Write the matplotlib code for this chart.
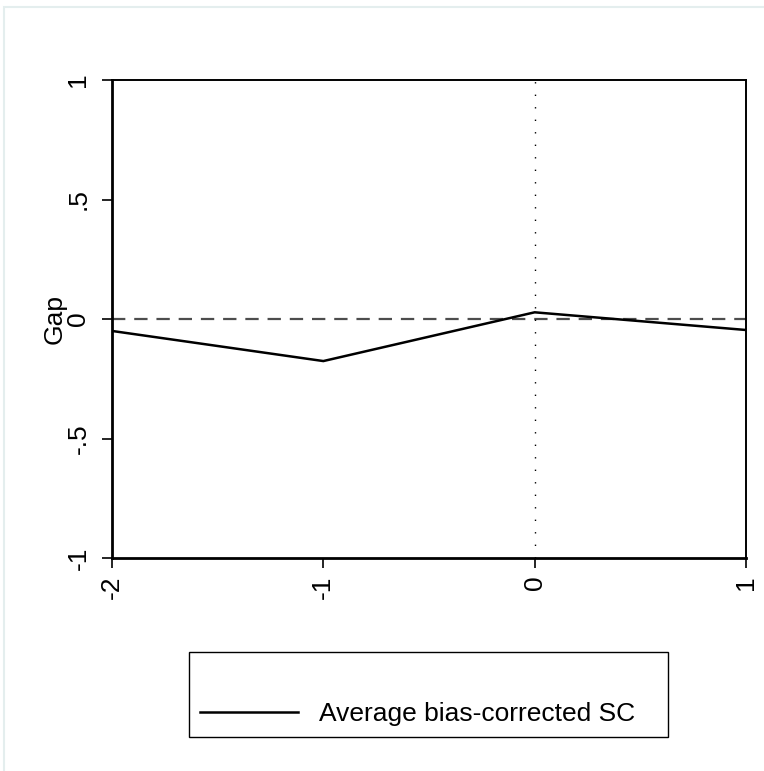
import matplotlib
matplotlib.use("Agg")
import matplotlib.pyplot as plt
from matplotlib.patches import Rectangle

# Data
periods = [-2, -1, 0, 1]
gap = [-0.05, -0.176, 0.028, -0.046]
yticks = [-1, -0.5, 0, 0.5, 1]
ytick_labels = ["-1", "-.5", "0", ".5", "1"]
xticks = [-2, -1, 0, 1]
xtick_labels = ["-2", "-1", "0", "1"]
series_label = "Average bias-corrected SC"

plt.rcParams['font.family'] = ['Liberation Sans', 'DejaVu Sans']
FS = 19

fig = plt.figure(figsize=(7.64, 7.71), dpi=100)
W, H = 764, 771

# outer faint frame (only top/left visible)
fig.patches.append(Rectangle((4 / W, -0.05), 1.0, (1 - 7 / H) + 0.05,
                             transform=fig.transFigure, fill=False,
                             edgecolor='#e4eeee', linewidth=1.5))

ax = fig.add_axes([112 / W, 1 - 558 / H, (746 - 112) / W, (558 - 80) / H])
ax.set_xlim(-2, 1)
ax.set_ylim(-1, 1)

ax.axhline(0, color='#4d4d4d', linestyle=(0, (6, 4)), linewidth=1.6, zorder=1)
ax.axvline(0, color='black', linestyle=(0, (1, 8)), linewidth=1.0, zorder=1)
line, = ax.plot(periods, gap, color='black', linewidth=1.8, zorder=3,
                solid_joinstyle='miter', label=series_label)

ax.set_yticks(yticks)
ax.set_yticklabels(ytick_labels, rotation=90, va='center', fontsize=FS)
ax.set_xticks(xticks)
ax.set_xticklabels(xtick_labels, rotation=90, ha='center', fontsize=FS)
ax.tick_params(direction='out', length=7.5, width=1.2)
ax.tick_params(axis='y', pad=8)
ax.tick_params(axis='x', pad=5)
ax.set_ylabel("Gap", fontsize=FS, labelpad=0)

for s in ax.spines.values():
    s.set_linewidth(1.4)
ax.spines['left'].set_linewidth(2.0)
ax.spines['bottom'].set_linewidth(2.0)

# legend box
fig.patches.append(Rectangle((189 / W, 1 - 737 / H), (668 - 189) / W, (737 - 652) / H,
                             transform=fig.transFigure, fill=False,
                             edgecolor='black', linewidth=1.0))
leg = fig.legend(handles=[line], loc='center left',
                 bbox_to_anchor=(200 / W, 1 - 714 / H), frameon=False,
                 fontsize=FS, handlelength=100 / 27, handletextpad=22 / 27,
                 borderpad=0, borderaxespad=0)

fig.savefig("out.png", dpi=100)
